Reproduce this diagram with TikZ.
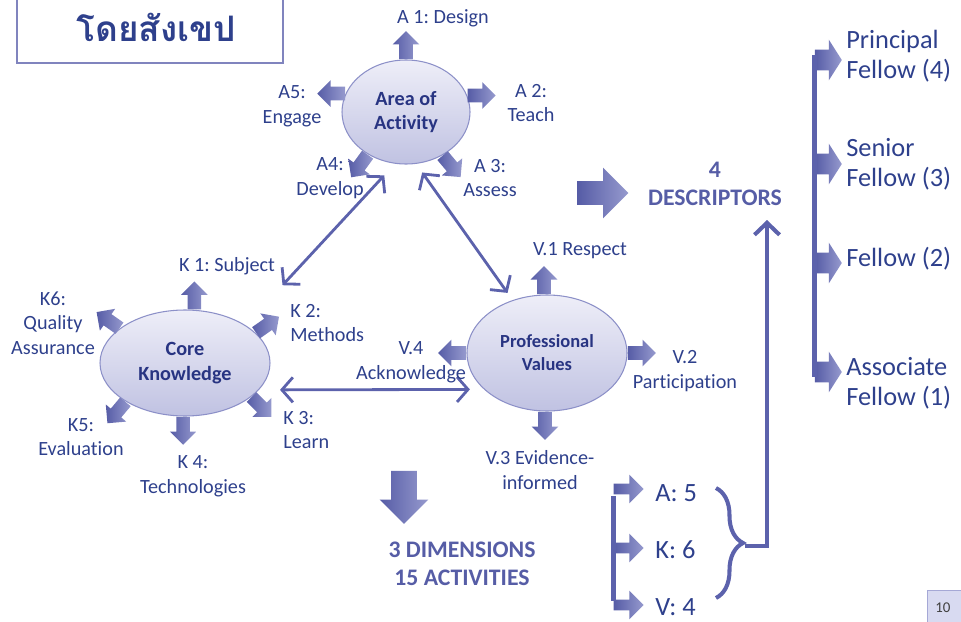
\documentclass[tikz,border=0pt]{standalone}
\usepackage{fontspec}
\setmainfont{Carlito}[Ligatures=NoCommon]
\newfontfamily\thaifont[Script=Thai]{Loma}
\usetikzlibrary{shapes.geometric,shapes.arrows,arrows.meta,decorations.pathreplacing}
\definecolor{txtblue}{RGB}{46,64,140}
\definecolor{ellblue}{RGB}{40,52,130}
\definecolor{boldblue}{RGB}{86,93,166}
\definecolor{linecol}{RGB}{92,98,172}
\definecolor{arrdark}{RGB}{86,92,166}
\definecolor{arrlight}{RGB}{150,154,206}
\definecolor{elltop}{RGB}{238,238,248}
\definecolor{ellbot}{RGB}{192,194,226}
\definecolor{ellline}{RGB}{140,144,200}
\definecolor{boxcol}{RGB}{128,132,190}
\definecolor{pagefill}{RGB}{216,218,241}
\definecolor{pageline}{RGB}{165,168,214}
\frenchspacing
\tikzset{
  lbl/.style={text=txtblue,font=\fontsize{11.5}{14}\selectfont,align=center,inner sep=0pt},
  lvl/.style={text=txtblue,font=\fontsize{15}{17}\selectfont,align=left,inner sep=0pt,anchor=west},
  bigtxt/.style={text=boldblue,font=\fontsize{13.5}{16}\selectfont\bfseries,align=center,inner sep=0pt},
  hub/.style={ellipse,draw=ellline,line width=0.6pt,top color=elltop,bottom color=ellbot,
    inner sep=0pt,text=ellblue,font=\fontsize{11.5}{14}\selectfont\bfseries,align=center},
  blk/.style={single arrow,draw=none,inner xsep=0pt,left color=arrdark,right color=arrlight},
  sarr/.style={blk,anchor=tail,inner ysep=1.3mm,minimum height=5.6mm,minimum width=5.2mm,single arrow head extend=1.3mm},
  farr/.style={blk,inner ysep=2mm,minimum height=5.4mm,minimum width=8mm,single arrow head extend=2mm,single arrow tip angle=115},
  karr/.style={blk,inner ysep=1mm,minimum height=6mm,minimum width=5.6mm,single arrow head extend=1.8mm},
  link/.style={draw=linecol,line width=1.6pt,{Straight Barb[length=2.2mm,width=5mm]}-{Straight Barb[length=2.2mm,width=5mm]}},
  bar/.style={draw=linecol,line width=2.6pt}
}
\begin{document}
\begin{tikzpicture}[x=0.02cm,y=-0.02cm]
\useasboundingbox (0,0) rectangle (961,622);
% title
\draw[boxcol,line width=1.6pt] (17,-10) rectangle (283,63);
\node[text=txtblue,font=\thaifont\bfseries\fontsize{20}{24}\selectfont] (title) at (156,27) {โดยสังเขป};
% the three dimensions
\node[hub,minimum width=128*0.02cm,minimum height=104*0.02cm] (area) at (406,112) {Area of\\Activity};
\node[hub,minimum width=170*0.02cm,minimum height=106*0.02cm] (core) at (185,363) {Core\\Knowledge};
\node[hub,minimum width=160*0.02cm,minimum height=116*0.02cm,font=\fontsize{10.5}{13}\selectfont\bfseries] (values) at (547,353) {Professional\\Values};
\draw[link,shorten <=9pt,shorten >=31pt] (area.258) -- (core.32);
\draw[link,shorten <=6pt,shorten >=5pt] (area.-79) -- (values.123);
\draw[link,shorten <=12pt,shorten >=8pt] (core.-20) -- (values.210);
% area of activity
\node[sarr,rotate=90] (aa1) at (area.90) {};
\node[sarr] (aa2) at (area.15) {};
\node[sarr,rotate=-50] (aa3) at (area.-50) {};
\node[sarr,rotate=234] (aa4) at (area.228) {};
\node[sarr,rotate=180] (aa5) at (area.163) {};
\node[lbl] (a1) at (443,18) {A 1: Design};
\node[lbl] (a2) at (531,103) {A 2:\\Teach};
\node[lbl] (a3) at (490,178) {A 3:\\Assess};
\node[lbl] (a4) at (330,178) {A4:\\Develop};
\node[lbl] (a5) at (292,106) {A5:\\Engage};
% core knowledge
\node[sarr,rotate=90] (kk1) at (core.80) {};
\node[sarr,rotate=35] (kk2) at (core.23) {};
\node[sarr,rotate=-45] (kk3) at (core.-27) {};
\node[sarr,rotate=270] (kk4) at (core.268) {};
\node[sarr,rotate=230] (kk5) at (core.213) {};
\node[sarr,rotate=145] (kk6) at (core.152) {};
\node[lbl] (k1) at (227,266) {K 1: Subject};
\node[lbl,anchor=west,align=left] (k2) at (290,323) {K 2:\\Methods};
\node[lbl,anchor=west,align=left] (k3) at (283,430) {K 3:\\Learn};
\node[lbl] (k4) at (193,476) {K 4:\\Technologies};
\node[lbl] (k5) at (81,437) {K5:\\Evaluation};
\node[lbl] (k6) at (53,323) {K6:\\Quality\\Assurance};
% professional values
\node[sarr,rotate=90] (vv1) at (values.93) {};
\node[sarr] (vv2) at (values.0) {};
\node[sarr,rotate=270] (vv3) at (values.268) {};
\node[sarr,rotate=180] (vv4) at (values.180) {};
\node[lbl] (v1) at (580,251) {V.1 Respect};
\node[lbl] (v2) at (685,371) {V.2\\Participation};
\node[lbl] (v3) at (540,470) {V.3 Evidence-\\informed};
\node[lbl] (v4) at (411,362) {V.4\\Acknowledge};
% totals
\node[blk,inner ysep=2.5mm,minimum height=10.6mm,minimum width=9.6mm,single arrow head extend=2.3mm,rotate=270] (down) at (404,491) {};
\node[bigtxt] (dims) at (462,564) {3 DIMENSIONS\\15 ACTIVITIES};
\node[blk,inner ysep=2.3mm,minimum height=10.2mm,minimum width=10mm,single arrow head extend=2.7mm] (right) at (597,193) {};
\node[bigtxt] (desc) at (715,184) {4\\DESCRIPTORS};
% counts
\node[karr] (ka) at (626,489) {};
\node[karr] (kk) at (626,548) {};
\node[karr] (kv) at (626,605) {};
\draw[bar] ([yshift=-4pt]ka.west) -- ([yshift=2pt]kv.west);
\node[lvl] (ca) at (655,493) {A: 5};
\node[lvl] (ck) at (655,550) {K: 6};
\node[lvl] (cv) at (655,607) {V: 4};
\draw[linecol,line width=2.3pt,decorate,decoration={brace,amplitude=5.4mm}] (716,488) -- (716,598);
\coordinate (btip) at (745,546);
\coordinate (dtip) at (767,220);
\draw[draw=linecol,line width=2.3pt,-{Straight Barb[length=2.4mm,width=5mm]}] (btip) -| (dtip);
% fellowship levels
\node[farr] (f4) at (825,60) {};
\node[farr] (f3) at (825,164) {};
\node[farr] (f2) at (825,263) {};
\node[farr] (f1) at (825,372) {};
\draw[bar,line width=2.8pt] ([yshift=3pt]f4.west) -- ([yshift=-3pt]f1.west);
\node[lvl] (l4) at (846,56) {Principal\\Fellow (4)};
\node[lvl] (l3) at (846,164) {Senior\\Fellow (3)};
\node[lvl] (l2) at (846,259) {Fellow (2)};
\node[lvl] (l1) at (846,383) {Associate\\Fellow (1)};
% page number
\node[draw=pageline,fill=pagefill,minimum width=38*0.02cm,minimum height=34*0.02cm,inner sep=0pt,anchor=north west,
  font=\fontsize{8.5}{10}\selectfont,text=black!75] (page) at (927,590) {10\hspace*{4pt}};
\end{tikzpicture}
\end{document}
